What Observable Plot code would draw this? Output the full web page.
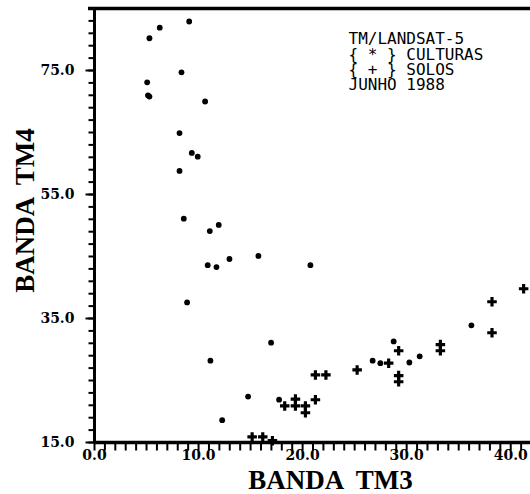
<!DOCTYPE html>
<html><head><meta charset="utf-8">
<script src="https://cdn.jsdelivr.net/npm/d3@7"></script>
<script src="https://cdn.jsdelivr.net/npm/@observablehq/plot@0.6"></script>
<style>body{margin:0;background:#fff}</style>
</head><body><div id="chart"></div>
<script>
// CULTURAS (*) : BANDA TM3 (x) vs BANDA TM4 (y)
const culturasX = [9.10, 6.27, 5.28, 8.36, 5.06, 5.14, 5.28, 10.63, 8.17, 9.35, 9.92, 8.17, 8.58, 11.08, 11.94, 10.88, 11.72, 12.97, 15.75, 20.75, 8.90, 16.97, 11.14, 12.27, 14.76, 17.74, 26.73, 27.47, 28.75, 30.26, 31.25, 36.22];
const culturasY = [82.9, 81.9, 80.2, 74.7, 73.1, 71.0, 70.8, 70.0, 64.9, 61.7, 61.1, 58.8, 51.1, 49.1, 50.1, 43.6, 43.3, 44.6, 45.1, 43.6, 37.6, 31.1, 28.2, 18.6, 22.4, 21.9, 28.2, 27.8, 31.3, 27.9, 28.9, 33.9];
// SOLOS (+)
const solosX = [18.28, 19.31, 19.31, 20.27, 20.27, 21.23, 21.23, 22.24, 15.15, 16.17, 17.10, 25.24, 28.27, 29.23, 29.23, 29.23, 33.24, 33.24, 38.20, 38.20, 41.24];
const solosY = [20.9, 22.0, 20.9, 20.9, 19.8, 21.9, 25.9, 25.9, 15.9, 15.9, 15.3, 26.7, 27.8, 29.8, 25.8, 24.8, 30.8, 29.8, 37.7, 32.7, 39.8];

const xTickValues = [0, 10, 20, 30, 40];
const yTickValues = [15, 35, 55, 75];
const xMinorTicks = [0,1,2,3,4,5,6,7,8,9,10,11,12,13,14,15,16,17,18,19,20,21,22,23,24,25,26,27,28,29,30,31,32,33,34,35,36,37,38,39,40,41];
const yMinorTicks = [15,17,19,21,23,25,27,29,31,33,35,37,39,41,43,45,47,49,51,53,55,57,59,61,63,65,67,69,71,73,75,77,79,81,83,85];
const xLabel = "BANDA  TM3";
const yLabel = "BANDA  TM4";
const legendLines = ["TM/LANDSAT-5", "{ * } CULTURAS", "{ + } SOLOS", "JUNHO 1988"];

const culturas = culturasX.map((x, i) => ({x, y: culturasY[i]}));
const solos = solosX.map((x, i) => ({x, y: solosY[i]}));

const W = 530, H = 494, ML = 94, MR = 0, MT = 8, MB = 52;
const xDomain = [0, 41.9], yDomain = [15, 85];
const pxPerX = (W - ML - MR) / (xDomain[1] - xDomain[0]);
const pxPerY = (H - MT - MB) / (yDomain[1] - yDomain[0]);
// tick segments expressed through the scales (lengths in pixels converted to data units)
const xTickSegs = xMinorTicks.map(v => ({x1: v, x2: v, y1: yDomain[0], y2: yDomain[0] - 8 / pxPerY}));
const yTickSegs = yMinorTicks.map(v => ({x1: xDomain[0], x2: xDomain[0] - 6 / pxPerX, y1: v, y2: v}));
const yMajorSegs = yTickValues.map(v => ({x1: xDomain[0], x2: xDomain[0] - 9 / pxPerX, y1: v, y2: v}));

const tickFont = {fontSize: 14, fontWeight: "bold", fontFamily: "DejaVu Serif"};
const titleFont = {fontSize: 27, fontWeight: "bold", fontFamily: "Liberation Serif"};

const chart = Plot.plot({
  width: W, height: H,
  marginLeft: ML, marginRight: MR, marginTop: MT, marginBottom: MB,
  x: {domain: xDomain, label: null, axis: null},
  y: {domain: yDomain, label: null, axis: null},
  marks: [
    Plot.dot(culturas, {x: "x", y: "y", r: 2.9, fill: "black"}),
    Plot.dot(solos, {x: "x", y: "y", r: 4, symbol: "cross", fill: "black"}),
    // tick labels
    Plot.text(xTickValues, {x: d => d, frameAnchor: "bottom", dy: 17, text: d => d.toFixed(1), fill: "black", ...tickFont}),
    Plot.text(yTickValues, {y: d => d, frameAnchor: "left", dx: -20, textAnchor: "end", text: d => d.toFixed(1), fill: "black", ...tickFont}),
    // titles
    Plot.text([xLabel], {frameAnchor: "bottom", dx: 18, dy: 38, textAnchor: "middle", lineAnchor: "middle", fill: "black", ...titleFont}),
    Plot.text([yLabel], {frameAnchor: "left", dx: -69, dy: -15, rotate: -90, textAnchor: "middle", lineAnchor: "middle", fill: "black", ...titleFont}),
    // legend
    Plot.text([legendLines.join("\n")], {frameAnchor: "top-left", dx: 254, dy: 25, textAnchor: "start", lineAnchor: "top", lineHeight: 0.96, fill: "black", fontFamily: "DejaVu Sans Mono", fontSize: 16}),
    // frame lines
    Plot.ruleX([0], {stroke: "black", strokeWidth: 3}),
    Plot.ruleY([15], {stroke: "black", strokeWidth: 3.5}),
    Plot.ruleY([85], {stroke: "black", strokeWidth: 3.5, insetLeft: -6}),
    // ticks as short links in data coordinates
    Plot.link(xTickSegs, {x1: "x1", x2: "x2", y1: "y1", y2: "y2", stroke: "black", strokeWidth: 2}),
    Plot.link(yTickSegs, {x1: "x1", x2: "x2", y1: "y1", y2: "y2", stroke: "black", strokeWidth: 2}),
    Plot.link(yMajorSegs, {x1: "x1", x2: "x2", y1: "y1", y2: "y2", stroke: "black", strokeWidth: 2})
  ]
});
document.getElementById("chart").appendChild(chart);
</script>
</body></html>
